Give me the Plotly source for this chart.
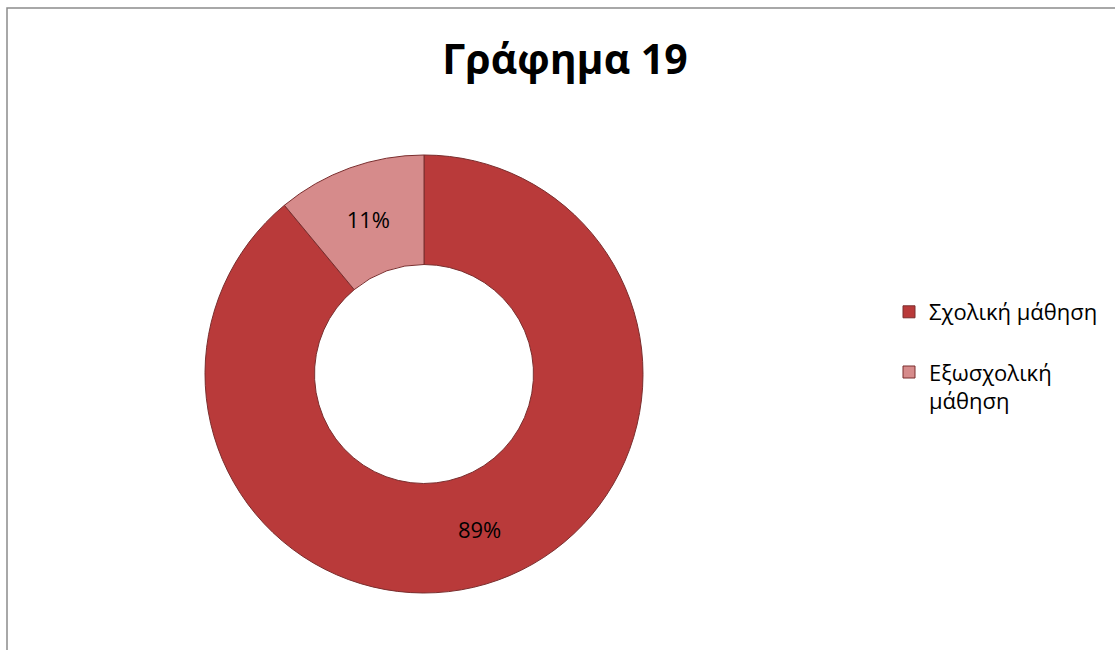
import plotly.graph_objects as go

categories = ["Σχολική μάθηση", "Εξωσχολική<br>μάθηση"]
values = [89, 11]
colors = ["#B93A3A", "#D68B8B"]

W, H = 1115, 650
FONT = "Open Sans, DejaVu Sans, sans-serif"

# legend text: an extra blank line after the first entry reproduces the reference spacing
legend_labels = [categories[0] + "<br>&nbsp;", categories[1]]
clean_names = [c.replace("<br>", " ") for c in categories]

fig = go.Figure()
fig.add_trace(go.Pie(
    labels=legend_labels,
    values=values,
    customdata=clean_names,
    hole=0.5,
    sort=False,
    direction="clockwise",
    rotation=0,
    marker=dict(colors=colors, line=dict(color="#7A2E2E", width=1)),
    texttemplate="%{percent:.0%}",
    textposition="inside",
    insidetextorientation="horizontal",
    textfont=dict(size=22, color="#000000", family=FONT),
    domain=dict(x=[205 / W, 643 / W], y=[57 / H, 495 / H]),
    hovertemplate="%{customdata}: %{percent:.0%}<extra></extra>",
))

fig.update_layout(
    width=W, height=H,
    margin=dict(l=0, r=0, t=0, b=0),
    paper_bgcolor="white",
    plot_bgcolor="white",
    title=dict(text="<b>Γράφημα 19</b>", x=565 / W, xanchor="center", y=1 - 60 / H, yanchor="middle",
               font=dict(size=41, color="#000000", family=FONT)),
    showlegend=True,
    legend=dict(x=889 / W, xanchor="left", y=1 - 291 / H, yanchor="top", valign="top",
                font=dict(size=22, color="#000000", family=FONT),
                itemwidth=30, traceorder="normal", bgcolor="rgba(0,0,0,0)"),
    shapes=[dict(type="rect", xref="paper", yref="paper",
                 x0=7 / W, x1=1.01, y0=-0.01, y1=1 - 8 / H,
                 line=dict(color="#8C8C8C", width=1.5), fillcolor="rgba(0,0,0,0)", layer="below")],
)

fig.write_html("out.html", config={"displayModeBar": False},
               post_script="document.body.style.margin='0';")
